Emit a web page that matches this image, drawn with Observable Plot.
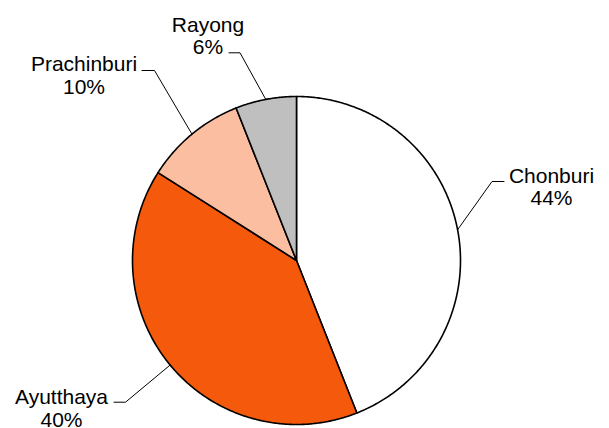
<!DOCTYPE html>
<html>
<head>
<meta charset="utf-8">
<script src="https://cdn.jsdelivr.net/npm/d3@7"></script>
<script src="https://cdn.jsdelivr.net/npm/@observablehq/plot@0.6"></script>
<style>
  html, body { margin: 0; padding: 0; background: #fff; }
  #chart svg { display: block; }
</style>
</head>
<body>
<div id="chart"></div>
<script>
// ---- Data ----
const provinces = ["Chonburi", "Ayutthaya", "Prachinburi", "Rayong"];
const shares = [44, 40, 10, 6];
const colors = ["#FFFFFF", "#F5590C", "#FBBEA0", "#BFBFBF"];

// ---- Layout (pixels) ----
const W = 609, H = 428;
const cx = 296, cy = 260, R = 164;
// label anchor (text block) and leader elbow positions
const labelX = [551, 61, 83.5, 207.5];
const labelY = [186.3, 407.9, 74.6, 35.3];
const leaderStartX = [503.5, 113.5, 141.5, 228.5];
const leaderElbowX = [491.5, 125, 154, 239.5];
const leaderY = [181, 401.7, 70, 52.3];

const total = d3.sum(shares);
const arcs = d3.pie().sort(null).value(d => d)(shares);

const pt = (a, r) => ({x: cx + r * Math.sin(a), y: cy - r * Math.cos(a)});

// wedge polygons
const wedgePts = [];
arcs.forEach((a, i) => {
  const n = Math.max(8, Math.ceil((a.endAngle - a.startAngle) / (Math.PI / 360)));
  wedgePts.push({...pt(0, 0), k: i});
  for (let j = 0; j <= n; j++) {
    const ang = a.startAngle + (a.endAngle - a.startAngle) * j / n;
    wedgePts.push({...pt(ang, R), k: i});
  }
  wedgePts.push({...pt(0, 0), k: i});
});

// leader lines
const leaderPts = [];
arcs.forEach((a, i) => {
  const mid = (a.startAngle + a.endAngle) / 2;
  leaderPts.push({x: leaderStartX[i], y: leaderY[i], k: i});
  leaderPts.push({x: leaderElbowX[i], y: leaderY[i], k: i});
  leaderPts.push({...pt(mid, R), k: i});
});

const labels = provinces.map((p, i) => ({
  x: labelX[i], y: labelY[i],
  text: `${p}\n${Math.round(shares[i] / total * 100)}%`
}));

const chart = Plot.plot({
  width: W, height: H,
  margin: 0,
  x: {domain: [0, W], range: [0, W], axis: null},
  y: {domain: [0, H], range: [0, H], axis: null},
  style: {background: "#fff", fontFamily: "'Liberation Sans', Arial, sans-serif"},
  marks: [
    Plot.line(wedgePts, {x: "x", y: "y", z: "k", fill: d => colors[d.k], stroke: "#000", strokeWidth: 1.6, strokeLinejoin: "round", curve: "linear"}),
    Plot.line(leaderPts, {x: "x", y: "y", z: "k", stroke: "#000", strokeWidth: 1}),
    Plot.text(labels, {x: "x", y: "y", text: "text", fontSize: 21, lineHeight: 1.08, textAnchor: "middle", fill: "#000"})
  ]
});
document.getElementById("chart").appendChild(chart);
</script>
</body>
</html>
